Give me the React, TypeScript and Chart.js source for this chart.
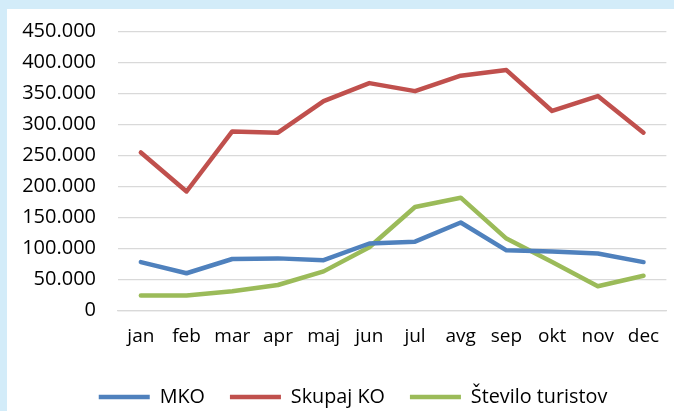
import React, { useEffect, useRef } from "react";
import { Chart, registerables } from "chart.js";

Chart.register(...registerables);

const months = ["jan", "feb", "mar", "apr", "maj", "jun", "jul", "avg", "sep", "okt", "nov", "dec"];
const mko = [78000, 60000, 83000, 84000, 81000, 108000, 111000, 142000, 97000, 95000, 92000, 78000];
const skupajKO = [255000, 192000, 289000, 287000, 338000, 367000, 354000, 379000, 388000, 322000, 346000, 287000];
const steviloTuristov = [24000, 24000, 31000, 41000, 63000, 102000, 167000, 182000, 116000, 78000, 39000, 56000];
const seriesNames = ["MKO", "Skupaj KO", "Število turistov"];

const fmt = (v: number) => String(v).replace(/\B(?=(\d{3})+(?!\d))/g, ".");

const shiftLegend = {
  id: "shiftLegend",
  afterLayout(chart: any) {
    if (chart.legend) {
      chart.legend.left += 16;
      chart.legend.right += 16;
    }
  },
};

export default function App() {
  const ref = useRef<HTMLCanvasElement>(null);
  useEffect(() => {
    if (!ref.current) return;
    const common = {
      borderWidth: 4.5,
      pointRadius: 0,
      pointHoverRadius: 0,
      tension: 0,
      borderCapStyle: "round" as const,
      borderJoinStyle: "round" as const,
      pointStyle: "line" as const,
      fill: false,
    };
    const chart = new Chart(ref.current, {
      type: "line",
      data: {
        labels: months,
        datasets: [
          { ...common, label: seriesNames[0], data: mko, borderColor: "#4f81bd", backgroundColor: "#4f81bd" },
          { ...common, label: seriesNames[1], data: skupajKO, borderColor: "#c0504d", backgroundColor: "#c0504d" },
          { ...common, label: seriesNames[2], data: steviloTuristov, borderColor: "#9bbb59", backgroundColor: "#9bbb59" },
        ],
      },
      plugins: [shiftLegend],
      options: {
        animation: false,
        responsive: false,
        maintainAspectRatio: false,
        layout: { padding: { left: 0, right: 7, top: 0, bottom: -6 } },
        plugins: {
          tooltip: { enabled: false },
          legend: {
            position: "bottom",
            labels: {
              usePointStyle: true,
              pointStyleWidth: 51,
              boxHeight: 10,
              padding: 25,
              color: "#000",
              font: { family: "'Open Sans'", size: 19.8 },
            },
          },
        },
        scales: {
          x: {
            offset: true,
            grid: { display: false, drawTicks: false },
            border: { display: true, color: "#d9d9d9", width: 1.3 },
            ticks: { color: "#000", padding: 14.5, maxRotation: 0, font: { family: "'Open Sans'", size: 19 } },
          },
          y: {
            min: 0,
            max: 450000,
            afterFit: (axis: any) => {
              axis.width = 111;
              axis.paddingTop = 22.7;
              axis.paddingBottom = 0;
            },
            grid: { color: "#d9d9d9", lineWidth: 1.3, drawTicks: false },
            border: { display: false },
            ticks: {
              stepSize: 50000,
              padding: 22,
              color: "#000",
              font: { family: "'Open Sans'", size: 20 },
              callback: (v: any) => fmt(Number(v)),
            },
          },
        },
      },
    });
    return () => chart.destroy();
  }, []);
  return (
    <div style={{ position: "fixed", left: 0, top: 0, width: 674, height: 411, background: "#d3ecf9" }}>
      <div style={{ position: "absolute", left: 7, top: 9, width: 667, height: 402, background: "#fff" }}>
        <canvas ref={ref} width={667} height={402} style={{ display: "block", width: 667, height: 402 }} />
      </div>
    </div>
  );
}
